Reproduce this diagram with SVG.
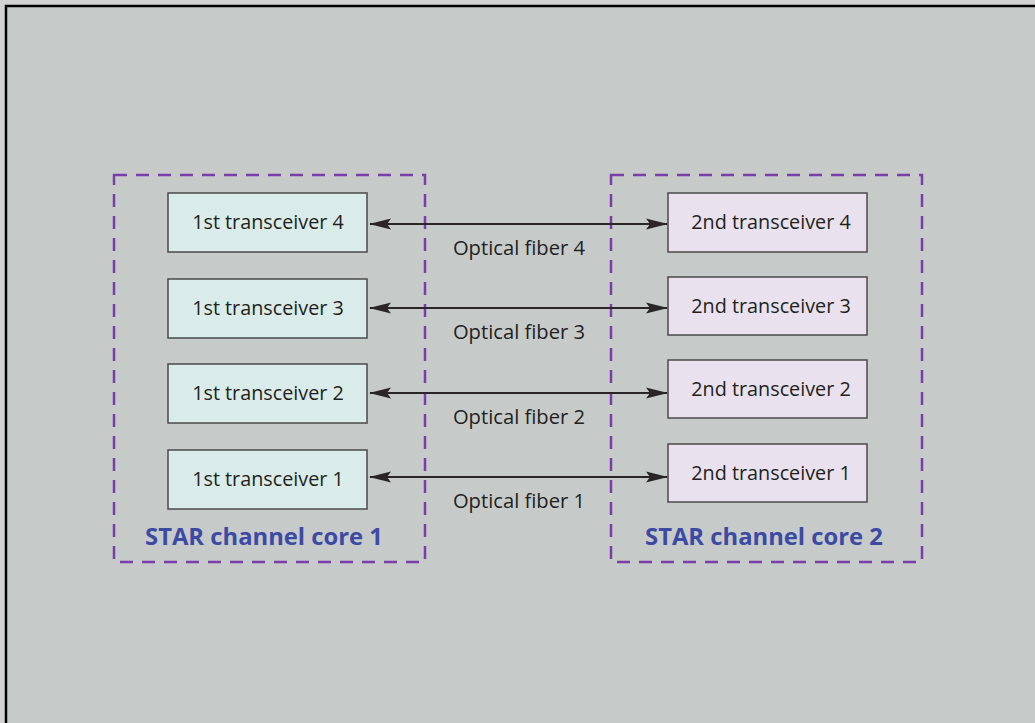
<svg xmlns="http://www.w3.org/2000/svg" width="1035" height="723" viewBox="0 0 1035 723">
<defs>
<style>
.core{fill:none;stroke:#7a3ea8;stroke-width:2.5;stroke-dasharray:13 9}
.t1{fill:#d9ecea;stroke:#4a4a4a;stroke-width:1.5}
.t2{fill:#e9e1ee;stroke:#4a4a4a;stroke-width:1.5}
.lbl{font-family:"Open Sans","Liberation Sans",sans-serif;font-size:19.8px;fill:#231f20;text-anchor:middle}
.fib{font-family:"Open Sans","Liberation Sans",sans-serif;font-size:20.2px;fill:#231f20;text-anchor:middle}
.cap{font-family:"Open Sans","Liberation Sans",sans-serif;font-size:23.8px;font-weight:bold;fill:#3d4aa3;text-anchor:middle}
.ln{stroke:#2a2526;stroke-width:2;fill:none}
</style>
<marker id="ah" viewBox="0 0 22 12" refX="21" refY="6" markerWidth="22" markerHeight="12" markerUnits="userSpaceOnUse" orient="auto-start-reverse">
<path d="M0,0.5 L22,6 L0,11.5 L4,6 Z" fill="#2a2526"/>
</marker>
</defs>
<rect x="0" y="0" width="1035" height="723" fill="#d2d2d2"/>
<rect x="6" y="6" width="1040" height="730" fill="#c6cbca" stroke="#000" stroke-width="2.5"/>

<g id="core1">
<rect class="core" x="114" y="175" width="311" height="387"/>
<text class="cap" x="264" y="545">STAR channel core 1</text>
</g>
<g id="core2">
<rect class="core" x="611" y="175" width="311" height="387"/>
<text class="cap" x="764" y="545">STAR channel core 2</text>
</g>

<g id="t1_4"><rect class="t1" x="168" y="193" width="199" height="59"/><text class="lbl" x="268" y="229">1st transceiver 4</text></g>
<g id="t1_3"><rect class="t1" x="168" y="279" width="199" height="59"/><text class="lbl" x="268" y="315">1st transceiver 3</text></g>
<g id="t1_2"><rect class="t1" x="168" y="364" width="199" height="59"/><text class="lbl" x="268" y="400">1st transceiver 2</text></g>
<g id="t1_1"><rect class="t1" x="168" y="450" width="199" height="59"/><text class="lbl" x="268" y="486">1st transceiver 1</text></g>

<g id="t2_4"><rect class="t2" x="668" y="193" width="199" height="59"/><text class="lbl" x="771" y="229">2nd transceiver 4</text></g>
<g id="t2_3"><rect class="t2" x="668" y="277" width="199" height="58"/><text class="lbl" x="771" y="313">2nd transceiver 3</text></g>
<g id="t2_2"><rect class="t2" x="668" y="360" width="199" height="58"/><text class="lbl" x="771" y="396">2nd transceiver 2</text></g>
<g id="t2_1"><rect class="t2" x="668" y="444" width="199" height="58"/><text class="lbl" x="771" y="480">2nd transceiver 1</text></g>

<g id="connectors">
<line class="ln" x1="370" y1="224" x2="667" y2="224" marker-start="url(#ah)" marker-end="url(#ah)"/>
<line class="ln" x1="370" y1="308" x2="667" y2="308" marker-start="url(#ah)" marker-end="url(#ah)"/>
<line class="ln" x1="370" y1="393" x2="667" y2="393" marker-start="url(#ah)" marker-end="url(#ah)"/>
<line class="ln" x1="370" y1="477" x2="667" y2="477" marker-start="url(#ah)" marker-end="url(#ah)"/>
<text class="fib" x="519" y="255">Optical fiber 4</text>
<text class="fib" x="519" y="339">Optical fiber 3</text>
<text class="fib" x="519" y="424">Optical fiber 2</text>
<text class="fib" x="519" y="508">Optical fiber 1</text>
</g>
</svg>
